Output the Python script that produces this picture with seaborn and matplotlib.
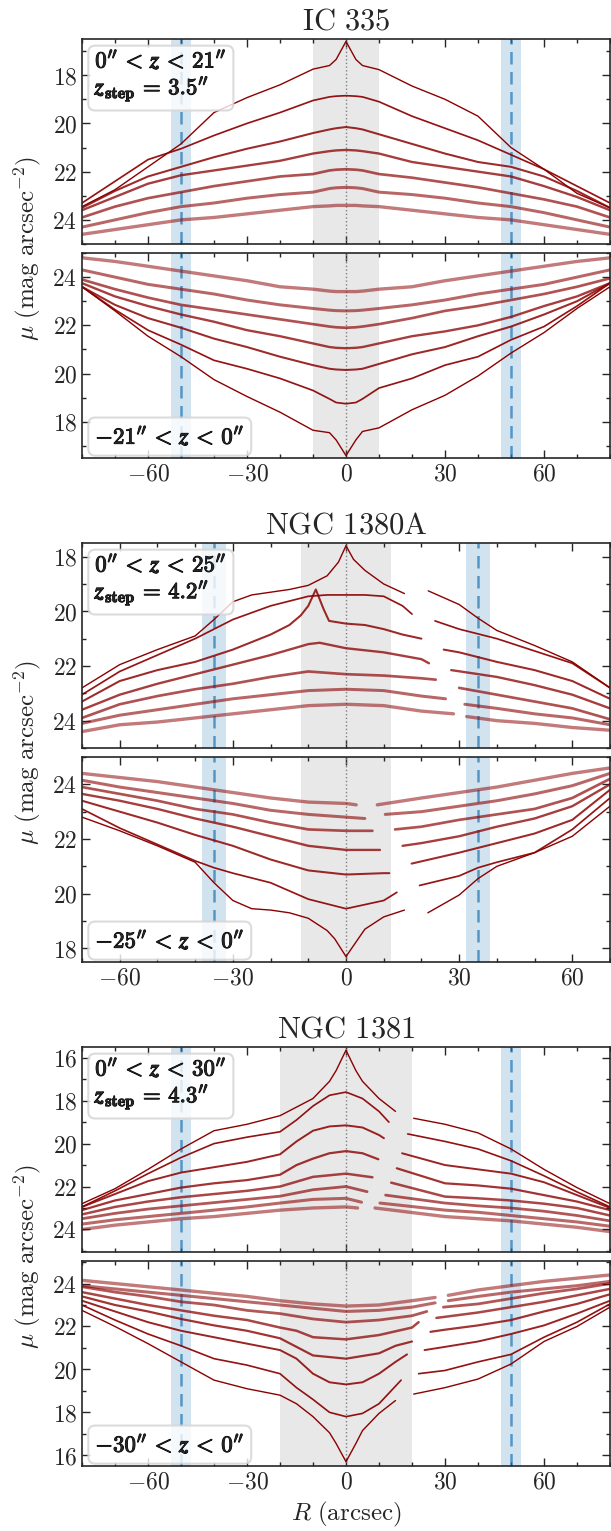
import numpy as np
import pandas as pd
import matplotlib
matplotlib.use("Agg")
import matplotlib.pyplot as plt
import matplotlib.patheffects as pe
from matplotlib.ticker import MultipleLocator, FuncFormatter
import seaborn as sns

nan = np.nan

# ---------------- data ----------------
# IC 335 : one shared radius grid, no masked gaps
IC335_R = [-80, -70, -60, -50, -40, -30, -20, -10, -5, -3, 0, 3, 5, 10, 20, 30, 40, 50, 60, 70, 80]
IC335_UP_MU = [
    [23.45, 22.75, 21.8, 20.85, 19.55, 18.93, 18.4, 17.75, 17.6, 17.35, 16.6, 17.35, 17.6, 17.77, 18.45, 19.0, 19.7, 21.0, 21.9, 22.9, 23.5],
    [23.3, 22.4, 21.5, 21.05, 20.5, 20.0, 19.55, 19.05, 18.9, 18.87, 18.85, 18.87, 18.9, 19.1, 19.7, 20.2, 20.7, 21.3, 21.9, 22.6, 23.3],
    [23.5, 22.8, 22.2, 21.8, 21.4, 21.05, 20.75, 20.4, 20.25, 20.2, 20.15, 20.2, 20.25, 20.45, 20.85, 21.25, 21.6, 21.8, 22.2, 22.8, 23.5],
    [23.6, 23.05, 22.5, 22.15, 21.95, 21.75, 21.55, 21.25, 21.15, 21.12, 21.1, 21.12, 21.15, 21.25, 21.6, 21.8, 22.0, 22.2, 22.6, 23.05, 23.6],
    [23.9, 23.45, 23.1, 22.85, 22.6, 22.4, 22.2, 22.1, 21.95, 21.92, 21.9, 21.92, 21.95, 22.1, 22.25, 22.45, 22.65, 22.9, 23.15, 23.45, 23.9],
    [24.3, 24.0, 23.7, 23.45, 23.3, 23.1, 22.95, 22.85, 22.7, 22.67, 22.65, 22.67, 22.7, 22.85, 22.95, 23.1, 23.3, 23.45, 23.7, 24.0, 24.3],
    [24.6, 24.4, 24.2, 24.0, 23.9, 23.75, 23.6, 23.45, 23.42, 23.4, 23.4, 23.4, 23.42, 23.45, 23.6, 23.75, 23.9, 24.0, 24.2, 24.4, 24.6],
]
IC335_LO_MU = [
    [23.6, 22.6, 21.55, 20.7, 19.75, 19.05, 18.4, 17.65, 17.55, 17.25, 16.6, 17.25, 17.6, 17.75, 18.5, 19.1, 19.9, 20.85, 21.7, 22.7, 23.6],
    [23.6, 22.65, 21.8, 21.2, 20.55, 20.2, 19.8, 19.3, 18.95, 18.8, 18.75, 18.8, 18.95, 19.4, 19.8, 20.35, 20.7, 21.4, 21.95, 22.8, 23.75],
    [23.6, 22.85, 22.3, 21.9, 21.45, 21.1, 20.7, 20.35, 20.2, 20.17, 20.15, 20.17, 20.2, 20.4, 20.8, 21.1, 21.55, 21.95, 22.45, 23.0, 23.75],
    [23.75, 23.2, 22.8, 22.45, 22.15, 21.8, 21.55, 21.25, 21.1, 21.07, 21.05, 21.07, 21.1, 21.25, 21.55, 21.75, 22.0, 22.35, 22.8, 23.2, 23.75],
    [23.9, 23.5, 23.15, 22.85, 22.65, 22.45, 22.25, 22.05, 21.95, 21.92, 21.9, 21.92, 21.95, 22.05, 22.3, 22.6, 22.8, 23.05, 23.3, 23.6, 23.95],
    [24.3, 24.0, 23.7, 23.5, 23.3, 23.05, 22.85, 22.7, 22.63, 22.61, 22.6, 22.61, 22.63, 22.7, 22.85, 23.05, 23.3, 23.5, 23.7, 24.0, 24.3],
    [24.8, 24.65, 24.45, 24.25, 24.05, 23.85, 23.6, 23.5, 23.42, 23.4, 23.4, 23.4, 23.42, 23.5, 23.6, 23.85, 24.05, 24.25, 24.45, 24.65, 24.8],
]

# NGC 1380A : nan marks the masked gap on the right side
N1380A_UP_R = [
    [-70, -60, -50, -40, -35, -30, -25, -20, -15, -10, -5, -2, 0, 2, 5, 10, 15.5, nan, 21.8, 30, 35, 40, 50, 60, 70],
    [-70, -60, -50, -40, -30, -20, -10, -5, 0, 5, 10, 15, 17.5, nan, 23.6, 30, 40, 50, 60, 70],
    [-70, -60, -50, -40, -30, -20, -15, -12, -10, -8, -6, -4.5, 0, 5, 10, 15, 20, nan, 25.9, 30, 40, 50, 60, 70],
    [-70, -60, -50, -40, -30, -20, -10, -7, 0, 10, 20, 22, nan, 27.9, 40, 50, 60, 70],
    [-70, -60, -50, -40, -30, -20, -10, 0, 10, 20, 23.8, nan, 30, 40, 50, 60, 70],
    [-70, -60, -50, -40, -30, -20, -10, 0, 10, 20, 26.4, nan, 31.5, 40, 50, 60, 70],
    [-70, -60, -50, -40, -30, -20, -10, 0, 10, 20, 28.5, nan, 32, 40, 50, 60, 70],
]
N1380A_UP_MU = [
    [22.8, 21.95, 21.4, 20.9, 20.3, 19.65, 19.4, 19.3, 19.2, 19.05, 18.7, 18.2, 17.6, 18.1, 18.5, 19.0, 19.35, nan, 19.25, 19.75, 20.25, 20.7, 21.25, 21.85, 22.8],
    [23.05, 22.2, 21.6, 21.0, 20.3, 19.8, 19.45, 19.4, 19.4, 19.4, 19.45, 19.8, 20.1, nan, 20.35, 20.65, 21.0, 21.45, 21.9, 22.8],
    [23.3, 22.55, 22.15, 21.85, 21.4, 20.85, 20.5, 20.15, 19.8, 19.2, 19.9, 20.35, 20.45, 20.5, 20.65, 20.85, 21.0, nan, 21.4, 21.5, 21.85, 22.15, 22.55, 23.2],
    [23.6, 23.05, 22.65, 22.3, 21.95, 21.6, 21.2, 21.15, 21.35, 21.5, 21.75, 21.9, nan, 22.15, 22.4, 22.7, 23.05, 23.55],
    [23.9, 23.4, 23.1, 22.85, 22.65, 22.4, 22.2, 22.3, 22.35, 22.45, 22.5, nan, 22.8, 23.05, 23.3, 23.55, 23.95],
    [24.1, 23.8, 23.6, 23.4, 23.2, 23.05, 22.9, 22.85, 22.9, 23.1, 23.2, nan, 23.4, 23.55, 23.75, 23.9, 24.15],
    [24.4, 24.15, 24.05, 23.9, 23.75, 23.6, 23.45, 23.4, 23.45, 23.65, 23.75, nan, 23.85, 24.0, 24.1, 24.25, 24.35],
]
N1380A_LO_R = [
    [-70, -60, -50, -40, -35, -30, -25, -20, -15, -10, -5, -3, 0, 3, 5, 10, 15.5, nan, 21.7, 30, 35, 40, 50, 60, 70],
    [-70, -60, -50, -40, -35, -30, -20, -10, 0, 10, 13.5, nan, 19.5, 30, 35, 40, 50, 60, 70],
    [-70, -60, -50, -40, -30, -20, -10, 0, 10, 11.5, nan, 17.4, 30, 40, 50, 60, 70],
    [-70, -60, -50, -40, -30, -20, -10, 0, 9, nan, 15, 20, 30, 40, 50, 60, 70],
    [-70, -60, -50, -40, -30, -20, -10, 0, 7, nan, 13, 20, 30, 40, 50, 60, 70],
    [-70, -60, -50, -40, -30, -20, -10, 0, 5, nan, 10.4, 20, 30, 40, 50, 60, 70],
    [-70, -60, -50, -40, -30, -20, -10, 0, 2.7, nan, 8.3, 20, 30, 40, 50, 60, 70],
]
N1380A_LO_MU = [
    [22.8, 22.3, 21.75, 21.15, 20.4, 19.75, 19.45, 19.4, 19.3, 19.1, 18.65, 18.35, 17.7, 18.3, 18.7, 19.15, 19.4, nan, 19.3, 19.95, 20.55, 21.0, 21.5, 22.1, 23.2],
    [23.1, 22.4, 21.8, 21.2, 20.95, 20.75, 20.4, 19.8, 19.45, 19.75, 20.05, nan, 20.3, 20.65, 20.95, 21.15, 21.5, 22.35, 23.5],
    [23.4, 23.0, 22.6, 22.15, 21.75, 21.25, 20.85, 20.7, 20.75, 20.75, nan, 21.1, 21.5, 21.85, 22.2, 22.7, 23.8],
    [23.65, 23.4, 23.1, 22.75, 22.45, 22.1, 21.75, 21.6, 21.6, nan, 21.75, 21.85, 22.1, 22.45, 22.75, 23.2, 24.0],
    [23.9, 23.65, 23.4, 23.1, 22.9, 22.6, 22.35, 22.3, 22.3, nan, 22.35, 22.45, 22.7, 22.9, 23.1, 23.5, 24.2],
    [24.15, 23.9, 23.7, 23.5, 23.3, 23.05, 22.9, 22.8, 22.75, nan, 22.9, 23.0, 23.2, 23.4, 23.65, 23.95, 24.4],
    [24.4, 24.25, 24.1, 23.9, 23.7, 23.5, 23.35, 23.3, 23.25, nan, 23.25, 23.5, 23.7, 23.9, 24.15, 24.4, 24.6],
]

# NGC 1381
N1381_UP_R = [
    [-80, -70, -60, -50, -40, -30, -20, -15, -10, -5, -3, 0, 3, 5, 10, 15, nan, 20.5, 30, 40, 50, 60, 70, 80],
    [-80, -70, -60, -50, -40, -30, -20, -15, -10, -5, 0, 5, 10, 13, nan, 18.7, 30, 40, 50, 60, 70, 80],
    [-80, -70, -60, -50, -40, -30, -20, -15, -10, -5, 0, 5, 10, 11.5, nan, 17, 30, 40, 50, 60, 70, 80],
    [-80, -70, -60, -50, -40, -30, -20, -15, -10, -5, 0, 5, 9.8, nan, 15.4, 30, 40, 50, 60, 70, 80],
    [-80, -70, -60, -50, -40, -30, -20, -10, 0, 8, nan, 13.7, 30, 40, 50, 60, 70, 80],
    [-80, -70, -60, -50, -40, -30, -20, -10, 0, 6.4, nan, 12, 30, 40, 50, 60, 70, 80],
    [-80, -70, -60, -50, -40, -30, -20, -10, 0, 4.7, nan, 10.3, 30, 40, 50, 60, 70, 80],
    [-80, -70, -60, -50, -40, -30, -20, -10, 0, 3.5, nan, 8.8, 30, 40, 50, 60, 70, 80],
]
N1381_UP_MU = [
    [22.8, 22.1, 21.2, 20.25, 19.4, 19.1, 18.7, 18.3, 17.9, 17.1, 16.6, 15.65, 16.6, 17.1, 17.9, 18.5, nan, 18.82, 19.1, 19.5, 20.25, 21.2, 22.05, 22.8],
    [22.95, 22.2, 21.4, 20.65, 20.0, 19.7, 19.45, 18.9, 18.25, 17.75, 17.6, 17.9, 18.5, 19.0, nan, 19.55, 19.9, 20.25, 20.8, 21.5, 22.25, 22.95],
    [22.95, 22.35, 21.75, 21.35, 21.1, 20.85, 20.5, 19.9, 19.4, 19.2, 19.15, 19.25, 19.6, 19.75, nan, 20.45, 21.0, 21.2, 21.4, 21.8, 22.4, 23.0],
    [23.1, 22.65, 22.35, 22.05, 21.85, 21.7, 21.45, 21.0, 20.7, 20.45, 20.35, 20.45, 20.73, nan, 21.15, 21.85, 21.95, 22.1, 22.4, 22.7, 23.1],
    [23.3, 22.95, 22.7, 22.5, 22.35, 22.2, 22.0, 21.55, 21.4, 21.57, nan, 21.82, 22.47, 22.55, 22.65, 22.8, 23.0, 23.35],
    [23.5, 23.25, 23.05, 22.9, 22.75, 22.6, 22.45, 22.15, 22.0, 22.24, nan, 22.4, 22.77, 22.9, 23.0, 23.15, 23.35, 23.6],
    [23.75, 23.55, 23.4, 23.25, 23.1, 22.95, 22.77, 22.6, 22.55, 22.73, nan, 22.77, 23.1, 23.2, 23.35, 23.5, 23.65, 23.85],
    [24.0, 23.8, 23.65, 23.5, 23.4, 23.25, 23.1, 23.0, 22.95, 23.0, nan, 23.0, 23.4, 23.5, 23.6, 23.75, 23.9, 24.1],
]
N1381_LO_R = [
    [-80, -70, -60, -50, -40, -30, -20, -15, -10, -5, -3, 0, 3, 5, 10, 15, nan, 20.5, 30, 40, 50, 60, 70, 80],
    [-80, -70, -60, -50, -40, -30, -20, -15, -10, -5, 0, 5, 10, 16.7, nan, 22, 30, 40, 50, 60, 70, 80],
    [-80, -70, -60, -50, -40, -30, -20, -15, -10, -5, 0, 5, 10, 15, 18.5, nan, 23.8, 30, 40, 50, 60, 70, 80],
    [-80, -70, -60, -50, -40, -30, -20, -15, -10, 0, 10, 15, 20, nan, 25.6, 30, 40, 50, 60, 70, 80],
    [-80, -70, -60, -50, -40, -30, -20, -15, -10, 0, 10, 20, 22, nan, 27.4, 30, 40, 50, 60, 70, 80],
    [-80, -70, -60, -50, -40, -30, -20, -10, 0, 10, 20, 24.5, nan, 29.5, 40, 50, 60, 70, 80],
    [-80, -70, -60, -50, -40, -30, -20, -10, 0, 10, 20, 27, nan, 31, 40, 50, 60, 70, 80],
    [-80, -70, -60, -50, -40, -30, -20, -10, 0, 10, 20, 27, nan, 31, 40, 50, 60, 70, 80],
]
N1381_LO_MU = [
    [22.75, 22.0, 21.2, 20.35, 19.5, 19.1, 18.8, 18.4, 17.8, 17.05, 16.55, 15.7, 16.55, 17.15, 17.95, 18.55, nan, 18.85, 19.15, 19.55, 20.25, 21.3, 22.0, 22.9],
    [23.0, 22.3, 21.65, 21.1, 20.5, 20.2, 19.8, 19.15, 18.6, 18.0, 17.8, 17.95, 18.4, 19.5, nan, 19.8, 19.95, 20.35, 20.7, 21.5, 22.2, 23.05],
    [23.2, 22.7, 22.2, 21.8, 21.5, 21.2, 20.9, 20.5, 19.8, 19.4, 19.3, 19.4, 19.8, 20.35, 20.7, nan, 20.9, 21.05, 21.3, 21.65, 22.05, 22.6, 23.2],
    [23.4, 23.0, 22.7, 22.35, 22.05, 21.8, 21.45, 21.05, 20.65, 20.5, 20.75, 21.1, 21.3, nan, 21.75, 21.85, 22.05, 22.3, 22.7, 23.05, 23.5],
    [23.6, 23.3, 23.0, 22.75, 22.5, 22.3, 21.95, 21.8, 21.5, 21.4, 21.6, 21.95, 22.2, nan, 22.4, 22.45, 22.65, 22.9, 23.15, 23.45, 23.75],
    [23.85, 23.6, 23.4, 23.15, 23.0, 22.75, 22.6, 22.35, 22.2, 22.3, 22.5, 22.7, nan, 22.9, 23.05, 23.3, 23.55, 23.75, 24.0],
    [23.9, 23.75, 23.6, 23.45, 23.3, 23.15, 23.0, 22.85, 22.7, 22.75, 22.9, 23.1, nan, 23.2, 23.4, 23.6, 23.75, 23.9, 24.1],
    [24.15, 24.0, 23.85, 23.7, 23.55, 23.4, 23.2, 23.05, 22.95, 23.0, 23.2, 23.35, nan, 23.45, 23.7, 23.9, 24.1, 24.25, 24.4],
]

GALAXIES = ["IC 335", "NGC 1380A", "NGC 1381"]
Z_MAX = ["21", "25", "30"]
Z_STEP = ["3.5", "4.2", "4.3"]
X_LIM = [80, 70, 80]
Y_LIM = [(16.5, 25.0), (17.5, 25.0), (15.5, 25.05)]
CORE_HALF = [10, 12, 20]   # grey central region
BAND_R = [50, 35, 50]      # blue dashed radius
BAND_HALF = [3, 3.2, 3]


def panel_frame(r_lists, mu_lists):
    # long table, one "seg" per unmasked stretch of a profile
    rows = []
    for i, (rr, mm) in enumerate(zip(r_lists, mu_lists)):
        seg = 0
        for r, m in zip(rr, mm):
            if np.isnan(r):
                seg += 1
                continue
            rows.append({"R": r, "mu": m, "curve": i, "seg": seg})
    return pd.DataFrame(rows)


# ---------------- style ----------------
sns.set_style("ticks")
plt.rcParams["font.family"] = ["DejaVu Serif"]
plt.rcParams["mathtext.fontset"] = "cm"
plt.rcParams["axes.linewidth"] = 1.2

fig = plt.figure(figsize=(6.11, 15.31), dpi=100)
H = 1531.0
left, width = 82 / 611, 528 / 611
panel_tops = [39, 253, 543, 757, 1047, 1261]
ph = 205

line_col = "#8b0000"
fmt = FuncFormatter(lambda v, p: f"${v:g}$")
bold = [pe.withStroke(linewidth=0.7, foreground="black")]

data_up = [([IC335_R] * 7, IC335_UP_MU), (N1380A_UP_R, N1380A_UP_MU), (N1381_UP_R, N1381_UP_MU)]
data_lo = [([IC335_R] * 7, IC335_LO_MU), (N1380A_LO_R, N1380A_LO_MU), (N1381_LO_R, N1381_LO_MU)]

for g in range(3):
    for k in range(2):
        top = panel_tops[2 * g + k]
        ax = fig.add_axes([left, 1 - (top + ph) / H, width, ph / H])
        rr, mm = (data_up if k == 0 else data_lo)[g]
        df = panel_frame(rr, mm)
        n = len(mm)

        ax.axvspan(-CORE_HALF[g], CORE_HALF[g], color="lightgray", alpha=0.5, lw=0, zorder=0)
        for s in (-1, 1):
            c = s * BAND_R[g]
            ax.axvspan(c - BAND_HALF[g], c + BAND_HALF[g], color="tab:blue", alpha=0.2, lw=0, zorder=0)
            ax.axvline(c, color="tab:blue", ls=(0, (5, 3)), lw=1.8, alpha=0.7, zorder=1)
        ax.axvline(0, color="gray", ls=":", lw=1.0, zorder=1)

        for i in range(n):
            sub = df[df["curve"] == i]
            a = 1.0 - 0.48 * i / (n - 1)
            sns.lineplot(data=sub, x="R", y="mu", units="seg", estimator=None,
                         sort=False, color=line_col, alpha=a, lw=1.0 + 1.4 * i / (n - 1),
                         ax=ax, legend=False, zorder=2)

        ax.set_xlim(-X_LIM[g], X_LIM[g])
        lo, hi = Y_LIM[g]
        if k == 0:
            ax.set_ylim(hi, lo)
        else:
            ax.set_ylim(lo, hi)
        ax.xaxis.set_major_locator(MultipleLocator(30))
        ax.xaxis.set_minor_locator(MultipleLocator(10))
        ax.yaxis.set_major_locator(MultipleLocator(2))
        ax.yaxis.set_minor_locator(MultipleLocator(1))
        ax.xaxis.set_major_formatter(fmt)
        ax.yaxis.set_major_formatter(fmt)
        ax.tick_params(which="both", direction="in", top=True, right=True, labelsize=17, width=1.0)
        ax.tick_params(which="major", length=6)
        ax.tick_params(which="minor", length=3)
        ax.set_xlabel("")
        ax.set_ylabel("")

        box = dict(boxstyle="round,pad=0.3", facecolor="white", edgecolor="lightgray", alpha=0.8, lw=1.5)
        if k == 0:
            ax.tick_params(labelbottom=False)
            ax.set_title(r"$\mathrm{" + GALAXIES[g].replace(" ", r"\ ") + "}$", fontsize=22, pad=7)
            txt = (r"$\mathbf{0}^{\prime\prime}\, < \,\mathbfit{z}\, < \,\mathbf{" + Z_MAX[g] + r"}^{\prime\prime}$" + "\n"
                   + r"$\mathbfit{z}_{\mathbf{step}}\, = \,\mathbf{" + Z_STEP[g] + r"}^{\prime\prime}$")
            t = ax.text(0.025, 0.955, txt, transform=ax.transAxes, ha="left", va="top",
                        fontsize=16.5, bbox=box, zorder=5, linespacing=1.1)
        else:
            txt = r"$-\mathbf{" + Z_MAX[g] + r"}^{\prime\prime}\, < \,\mathbfit{z}\, < \,\mathbf{0}^{\prime\prime}$"
            t = ax.text(0.025, 0.045, txt, transform=ax.transAxes, ha="left", va="bottom",
                        fontsize=16.5, bbox=box, zorder=5)
            if g == 2:
                ax.set_xlabel(r"$R\ \mathrm{(arcsec)}$", fontsize=18)
        t.set_path_effects(bold)

    yc = 1 - (panel_tops[2 * g] + panel_tops[2 * g + 1] + ph) / 2 / H
    fig.text(0.045, yc, r"$\mu\ \mathrm{(mag\ arcsec^{-2})}$", rotation=90,
             ha="center", va="center", fontsize=18)

fig.savefig("out.png", dpi=100)
